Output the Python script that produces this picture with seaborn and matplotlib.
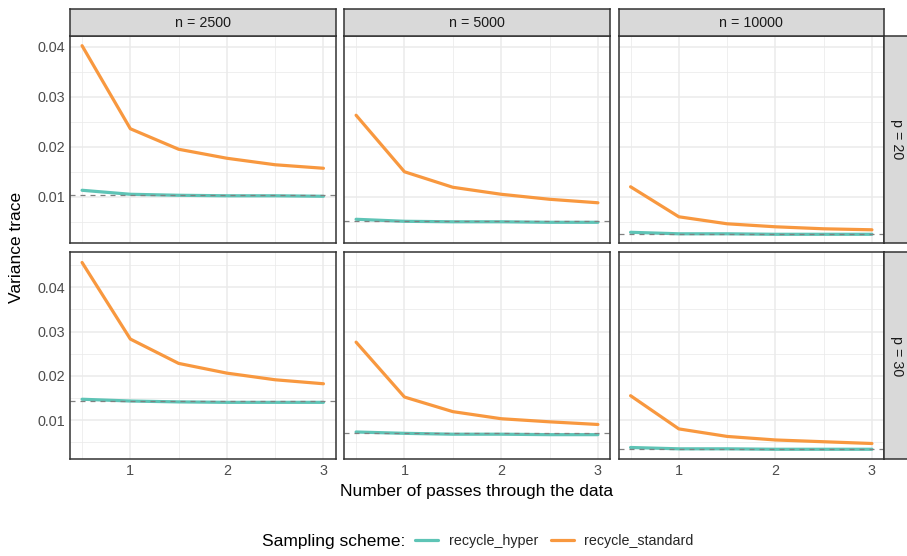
import numpy as np
import pandas as pd
import matplotlib.pyplot as plt
from matplotlib.lines import Line2D
from matplotlib.ticker import MultipleLocator
import seaborn as sns

sns.set_theme(style='white')
plt.rcParams['font.family'] = ['Liberation Sans', 'DejaVu Sans']

# data
passes = [0.5, 1, 1.5, 2, 2.5, 3]
ns = [2500, 5000, 10000]
ps = [20, 30]
schemes = ['recycle_hyper', 'recycle_standard']

standard_p20 = {
    2500: [0.0402, 0.0236, 0.0195, 0.0177, 0.0164, 0.0157],
    5000: [0.0263, 0.0150, 0.0119, 0.0105, 0.0095, 0.0088],
    10000: [0.0120, 0.0060, 0.0046, 0.0040, 0.0036, 0.0034],
}
standard_p30 = {
    2500: [0.0456, 0.0283, 0.0228, 0.0206, 0.0191, 0.0182],
    5000: [0.0276, 0.0152, 0.0119, 0.0103, 0.0096, 0.0090],
    10000: [0.0155, 0.0080, 0.0063, 0.0055, 0.0051, 0.0047],
}
hyper_p20 = {
    2500: [0.0113, 0.0105, 0.0103, 0.0102, 0.0102, 0.0101],
    5000: [0.0055, 0.0051, 0.0050, 0.0050, 0.0049, 0.0049],
    10000: [0.0029, 0.0026, 0.0026, 0.0025, 0.0025, 0.0025],
}
hyper_p30 = {
    2500: [0.0147, 0.0143, 0.0141, 0.0140, 0.0140, 0.0140],
    5000: [0.0073, 0.0070, 0.0068, 0.0068, 0.0067, 0.0067],
    10000: [0.0038, 0.0035, 0.0035, 0.0034, 0.0034, 0.0034],
}
reference_p20 = {2500: 0.0104, 5000: 0.0051, 10000: 0.0025}
reference_p30 = {2500: 0.0142, 5000: 0.0070, 10000: 0.0034}

palette = {'recycle_hyper': '#5EC4B6', 'recycle_standard': '#F8983F'}

rows = []
for p, hyp, std in [(20, hyper_p20, standard_p20), (30, hyper_p30, standard_p30)]:
    for n in ns:
        for x, v in zip(passes, hyp[n]):
            rows.append((p, n, 'recycle_hyper', x, v))
        for x, v in zip(passes, std[n]):
            rows.append((p, n, 'recycle_standard', x, v))
df = pd.DataFrame(rows, columns=['p', 'n', 'scheme', 'passes', 'value'])
refs = {20: reference_p20, 30: reference_p30}
row_ylim = {20: (0.0008, 0.0422), 30: (0.0012, 0.0479)}

W, H = 907, 556
fig = plt.figure(figsize=(W / 100, H / 100), dpi=100)

col_px = [(70, 335.5), (344, 610), (618.5, 884)]
row_px = [(35.7, 242.8), (252.3, 459)]

def fx(px):
    return px / W

def fy(py):
    return 1 - py / H

border = '#333333'
grid = '#EBEBEB'

for i, p in enumerate(ps):
    y0, y1 = row_px[i]
    for j, n in enumerate(ns):
        x0, x1 = col_px[j]
        ax = fig.add_axes([fx(x0), fy(y1), fx(x1 - x0), (y1 - y0) / H])
        sub = df[(df['p'] == p) & (df['n'] == n)]
        sns.lineplot(data=sub, x='passes', y='value', hue='scheme',
                     hue_order=schemes, palette=palette, lw=2.3,
                     legend=False, ax=ax, zorder=3)
        ax.axhline(refs[p][n], color='#808080', lw=0.9, ls=(0, (4, 4)), zorder=4)

        ax.set_xlim(0.375, 3.125)
        ax.set_ylim(*row_ylim[p])
        ax.xaxis.set_major_locator(MultipleLocator(1))
        ax.xaxis.set_minor_locator(MultipleLocator(0.5))
        ax.yaxis.set_major_locator(MultipleLocator(0.01))
        ax.yaxis.set_minor_locator(MultipleLocator(0.005))
        ax.grid(which='major', color=grid, lw=1.1, zorder=0)
        ax.grid(which='minor', color=grid, lw=0.55, zorder=0)
        ax.set_axisbelow(True)
        ax.set_facecolor('white')
        for s in ax.spines.values():
            s.set_color(border)
            s.set_linewidth(1.1)
            s.set_zorder(5)
        ax.set_xlabel('')
        ax.set_ylabel('')
        ax.tick_params(which='minor', length=0)
        ax.tick_params(which='major', length=2.3, width=0.8, color=border,
                       labelsize=10.4, labelcolor='#4D4D4D', pad=1.3)
        if j == 0:
            ax.set_yticks([0.01, 0.02, 0.03, 0.04])
            ax.set_yticklabels(['0.01', '0.02', '0.03', '0.04'])
        else:
            ax.tick_params(axis='y', which='major', length=0, labelleft=False)
        if i == 1:
            ax.set_xticks([1, 2, 3])
            ax.set_xticklabels(['1', '2', '3'])
        else:
            ax.tick_params(axis='x', which='major', length=0, labelbottom=False)

        # column strips on top
        if i == 0:
            sax = fig.add_axes([fx(x0), fy(35.7), fx(x1 - x0), (35.7 - 9) / H])
            sax.set_facecolor('#D9D9D9')
            sax.set_xticks([])
            sax.set_yticks([])
            for s in sax.spines.values():
                s.set_color(border)
                s.set_linewidth(1.1)
            sax.text(0.5, 0.47, f'n = {n}', ha='center', va='center',
                     fontsize=10.3, color='#1A1A1A', transform=sax.transAxes)

    # row strip on the right
    rax = fig.add_axes([fx(884), fy(y1), fx(912 - 884), (y1 - y0) / H])
    rax.set_facecolor('#D9D9D9')
    rax.set_xticks([])
    rax.set_yticks([])
    for s in rax.spines.values():
        s.set_color(border)
        s.set_linewidth(1.1)
    fig.text(fx(897), fy((y0 + y1) / 2), f'p = {p}', ha='center', va='center',
             rotation=-90, fontsize=10.3, color='#1A1A1A')

fig.text(fx(17), fy(247.5), 'Variance trace', rotation=90, ha='center',
         va='center', fontsize=12.5, color='black')
fig.text(fx(476.5), fy(491.5), 'Number of passes through the data',
         ha='center', va='center', fontsize=12.5, color='black')

# legend
fig.text(fx(262.5), fy(541.5), 'Sampling scheme:', ha='left', va='center',
         fontsize=12.5, color='black')
handles = [Line2D([], [], color=palette[s], lw=2.3) for s in schemes]
fig.legend(handles, schemes, ncol=2, loc='center left',
           bbox_to_anchor=(fx(415), fy(541.5)), frameon=False,
           fontsize=10.3, handlelength=1.6, handletextpad=0.75,
           columnspacing=0.9, borderpad=0, borderaxespad=0)

fig.savefig('out.png', dpi=100)
